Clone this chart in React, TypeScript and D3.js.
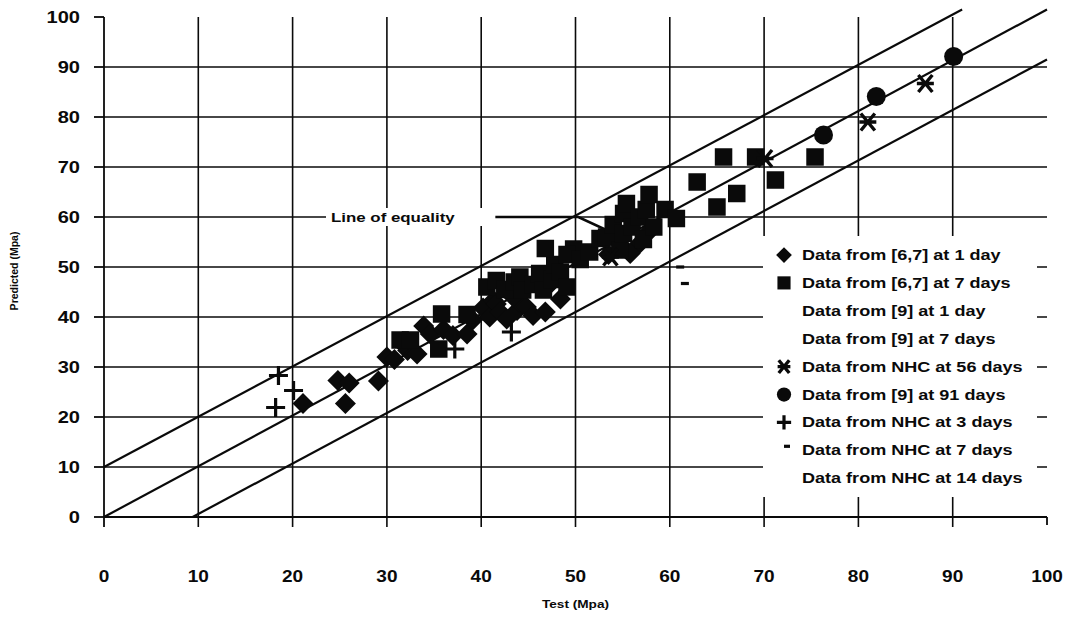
import React from "react";
import * as d3 from "d3";

// ---------- data (Test MPa, Predicted MPa) ----------
const xTickValues = [0, 10, 20, 30, 40, 50, 60, 70, 80, 90, 100];
const yTickValues = [0, 10, 20, 30, 40, 50, 60, 70, 80, 90, 100];

const ref67Day1: [number, number][] = [
  [21.1, 22.7], [24.8, 27.3], [26.0, 26.8], [25.6, 22.7], [29.1, 27.2], [30.0, 32.0],
  [30.8, 31.5], [32.2, 33.3], [31.7, 34.6], [33.2, 32.6], [33.9, 38.2], [34.6, 36.6],
  [36.0, 37.5], [37.0, 36.3], [38.5, 36.6], [39.1, 39.4], [40.2, 41.8], [40.9, 40.0],
  [41.3, 43.3], [41.6, 42.6], [42.0, 41.0], [42.7, 39.6], [43.8, 41.3], [44.0, 43.0],
  [44.8, 42.0], [45.5, 40.3], [46.8, 41.0], [48.4, 43.6], [47.0, 46.0], [43.4, 44.0],
  [53.5, 52.5], [55.0, 54.0], [56.8, 54.7], [55.8, 52.7], [57.5, 56.5],
];
const ref67Day7: [number, number][] = [
  [31.4, 35.4], [32.5, 35.4], [35.5, 33.6], [35.8, 40.6], [38.5, 40.5], [40.6, 46.0],
  [41.6, 47.3], [42.5, 45.5], [43.5, 47.0], [44.1, 48.0], [44.4, 45.4], [45.5, 46.5],
  [46.2, 48.7], [46.6, 45.4], [47.5, 47.5], [47.8, 50.5], [48.4, 49.0], [49.1, 46.0],
  [46.8, 53.7], [49.8, 53.6], [49.1, 52.5], [50.5, 51.5], [51.5, 53.0], [52.6, 55.7],
  [53.3, 56.0], [54.0, 58.5], [54.7, 53.4], [55.1, 56.7], [55.1, 60.7], [55.4, 62.7],
  [56.0, 58.0], [56.8, 60.0], [57.2, 55.5], [57.5, 61.5], [58.3, 58.0], [57.8, 64.5],
  [59.5, 61.5], [60.7, 59.7], [62.9, 67.0], [65.0, 62.0], [65.7, 72.0], [67.1, 64.7],
  [69.1, 72.0], [71.2, 67.4], [75.4, 72.0],
];
const ref9Day1: [number, number][] = [];
const ref9Day7: [number, number][] = [];
const nhcDay56: [number, number][] = [[53.7, 52.0], [70.1, 71.7], [81.0, 79.0], [87.1, 86.7]];
const ref9Day91: [number, number][] = [[76.3, 76.4], [81.9, 84.1], [90.1, 92.1]];
const nhcDay3: [number, number][] = [[18.5, 28.3], [20.1, 25.3], [18.2, 21.9], [43.2, 37.0], [37.2, 33.6]];
const nhcDay7: [number, number][] = [[61.1, 50.0], [61.6, 46.7]];
const nhcDay14: [number, number][] = [];

const legendLabels = [
  "Data from [6,7] at 1 day",
  "Data from [6,7] at 7 days",
  "Data from [9] at 1 day",
  "Data from [9] at 7 days",
  "Data from NHC at 56 days",
  "Data from [9] at 91 days",
  "Data from NHC at 3 days",
  "Data from NHC at 7 days",
  "Data from NHC at 14 days",
];
const legendSymbols = ["diamond", "square", "none", "none", "asterisk", "circle", "plus", "dash", "none"];
const seriesData = [ref67Day1, ref67Day7, ref9Day1, ref9Day7, nhcDay56, ref9Day91, nhcDay3, nhcDay7, nhcDay14];

// reference lines (equality and +/-10 MPa band), endpoints
const upperBand: [number, number][] = [[0, 10], [91, 101.5]];
const equalityLine: [number, number][] = [[0, 0], [100, 101.5]];
const lowerBand: [number, number][] = [[9.4, 0], [100, 91.5]];
const equalityLeader: [number, number][] = [[41.5, 60], [50.3, 60], [54.3, 56.5]];

// ---------- layout ----------
const W = 1076;
const H = 621;
const x = d3.scaleLinear().domain([0, 100]).range([104, 1047]);
const y = d3.scaleLinear().domain([0, 100]).range([517, 17]);
const FONT = "'Liberation Sans', Arial, Helvetica, sans-serif";
const INK = "#0a0a0a";

function Marker({ kind, cx, cy, big }: { kind: string; cx: number; cy: number; big: boolean }) {
  const k = big ? 1 : 0.75;
  switch (kind) {
    case "diamond": {
      const r = 10.5 * k;
      return <path d={`M${cx},${cy - r}L${cx + r},${cy}L${cx},${cy + r}L${cx - r},${cy}Z`} fill={INK} />;
    }
    case "square": {
      const s = 17.5 * k;
      return <rect x={cx - s / 2} y={cy - s / 2} width={s} height={s} fill={INK} />;
    }
    case "circle":
      return <circle cx={cx} cy={cy} r={9.5 * k} fill={INK} />;
    case "plus": {
      const a = 9.5 * k;
      return (
        <path d={`M${cx - a},${cy}H${cx + a}M${cx},${cy - a}V${cy + a}`} stroke={INK} strokeWidth={3.2} fill="none" />
      );
    }
    case "asterisk": {
      const a = 8.5 * k;
      const b = 7 * k;
      return (
        <path
          d={`M${cx - b},${cy - a}L${cx + b},${cy + a}M${cx + b},${cy - a}L${cx - b},${cy + a}M${cx - a},${cy}H${cx + a}`}
          stroke={INK}
          strokeWidth={3.4}
          fill="none"
        />
      );
    }
    case "dash": {
      const w = 8 * k;
      return <rect x={cx - w / 2} y={cy - 1.6} width={w} height={3.2} fill={INK} />;
    }
    default:
      return null;
  }
}

export default function App() {
  const line = d3
    .line<[number, number]>()
    .x((d) => x(d[0]))
    .y((d) => y(d[1]));

  const gridX = xTickValues.filter((v) => v > 0 && v < 100);
  const gridY = yTickValues.filter((v) => v > 0 && v < 100);

  const legendX = 763;
  const legendTop = 236;
  const rowY0 = 255;
  const rowStep = 27.9;

  return (
    <svg
      width={W}
      height={H}
      viewBox={`0 0 ${W} ${H}`}
      style={{ position: "absolute", left: 0, top: 0, background: "#fff" }}
    >
      <rect x={0} y={0} width={W} height={H} fill="#fff" />

      {/* horizontal gridlines */}
      {gridY.map((v) => (
        <line key={"gy" + v} x1={x(0)} x2={x(100)} y1={y(v)} y2={y(v)} stroke={INK} strokeWidth={1.6} />
      ))}
      {/* vertical gridlines + ticks */}
      {gridX.map((v) => (
        <line key={"gx" + v} x1={x(v)} x2={x(v)} y1={y(100)} y2={y(0) + 10} stroke={INK} strokeWidth={1.6} />
      ))}
      {/* axes */}
      <line x1={x(0)} x2={x(0)} y1={y(100)} y2={y(0) + 10} stroke={INK} strokeWidth={1.8} />
      <line x1={x(0)} x2={x(100)} y1={y(0)} y2={y(0)} stroke={INK} strokeWidth={1.8} />
      <line x1={x(100)} x2={x(100)} y1={y(0)} y2={y(0) + 8} stroke={INK} strokeWidth={1.8} />
      {yTickValues.map((v) => (
        <line key={"ty" + v} x1={x(0) - 10} x2={x(0)} y1={y(v)} y2={y(v)} stroke={INK} strokeWidth={1.8} />
      ))}

      {/* tick labels */}
      {yTickValues.map((v) => (
        <text
          key={"ly" + v}
          transform={`translate(80,${y(v) + 6}) scale(1.18,1)`}
          textAnchor="end"
          fontFamily={FONT}
          fontWeight="bold"
          fontSize={17}
          fill={INK}
        >
          {v}
        </text>
      ))}
      {xTickValues.map((v) => (
        <text
          key={"lx" + v}
          transform={`translate(${x(v)},582) scale(1.12,1)`}
          textAnchor="middle"
          fontFamily={FONT}
          fontWeight="bold"
          fontSize={17}
          fill={INK}
        >
          {v}
        </text>
      ))}

      {/* axis titles */}
      <text
        transform={`translate(${(x(0) + x(100)) / 2},608) scale(1.3,1)`}
        textAnchor="middle"
        fontFamily={FONT}
        fontWeight="bold"
        fontSize={10.5}
        fill={INK}
      >
        Test (Mpa)
      </text>
      <text
        transform={`translate(18,271) rotate(-90)`}
        textAnchor="middle"
        fontFamily={FONT}
        fontWeight="bold"
        fontSize={10.5}
        fill={INK}
      >
        Predicted (Mpa)
      </text>

      {/* reference lines */}
      {[upperBand, equalityLine, lowerBand].map((pts, i) => (
        <path key={"ref" + i} d={line(pts) || ""} stroke={INK} strokeWidth={2.2} fill="none" />
      ))}

      {/* line of equality annotation */}
      <rect x={326} y={y(60) - 9} width={170} height={18} fill="#fff" />
      <text
        transform={`translate(331,${y(60) + 5}) scale(1.25,1)`}
        fontFamily={FONT}
        fontWeight="bold"
        fontSize={13.5}
        fill={INK}
      >
        Line of equality
      </text>
      <path d={line(equalityLeader) || ""} stroke={INK} strokeWidth={2.6} fill="none" />

      {/* data points */}
      {seriesData.map((pts, si) =>
        pts.map((d, i) => (
          <Marker key={`m${si}-${i}`} kind={legendSymbols[si]} cx={x(d[0])} cy={y(d[1])} big={true} />
        ))
      )}

      {/* legend */}
      <rect x={legendX} y={legendTop} width={1037 - legendX} height={497 - legendTop} fill="#fff" />
      {legendLabels.map((lab, i) => {
        const cy = rowY0 + i * rowStep;
        const kind = legendSymbols[i];
        return (
          <g key={"lg" + i}>
            <Marker kind={kind} cx={kind === "dash" ? 787 : 784} cy={kind === "dash" ? cy - 4 : cy} big={false} />
            <text
              transform={`translate(802,${cy + 5}) scale(1.29,1)`}
              fontFamily={FONT}
              fontWeight="bold"
              fontSize={14}
              fill={INK}
            >
              {lab}
            </text>
          </g>
        );
      })}
    </svg>
  );
}
